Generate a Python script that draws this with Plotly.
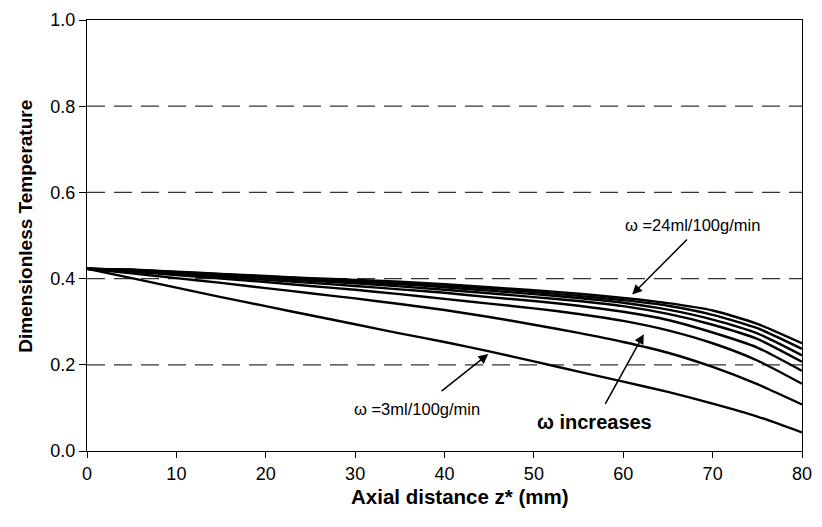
import plotly.graph_objects as go

z_mm = [0, 5, 10, 15, 20, 25, 30, 35, 40, 45, 50, 55, 60, 65, 70, 75, 80]

omega_labels = ["3", "6", "9", "12", "15", "18", "21", "24"]

temp_w3 = [0.423, 0.401, 0.379, 0.357, 0.336, 0.315, 0.294, 0.273, 0.253, 0.231, 0.208, 0.184, 0.161, 0.137, 0.110, 0.080, 0.043]
temp_w6 = [0.423, 0.412, 0.401, 0.390, 0.378, 0.366, 0.354, 0.341, 0.327, 0.311, 0.293, 0.274, 0.253, 0.228, 0.195, 0.155, 0.108]
temp_w9 = [0.423, 0.416, 0.408, 0.400, 0.392, 0.383, 0.374, 0.364, 0.353, 0.342, 0.331, 0.318, 0.302, 0.280, 0.250, 0.210, 0.156]
temp_w12 = [0.423, 0.418, 0.411, 0.404, 0.397, 0.390, 0.383, 0.375, 0.367, 0.357, 0.348, 0.337, 0.323, 0.304, 0.275, 0.240, 0.186]
temp_w15 = [0.423, 0.419, 0.413, 0.407, 0.401, 0.395, 0.389, 0.382, 0.374, 0.366, 0.357, 0.348, 0.336, 0.318, 0.293, 0.260, 0.207]
temp_w18 = [0.423, 0.420, 0.415, 0.409, 0.403, 0.398, 0.392, 0.387, 0.380, 0.372, 0.364, 0.355, 0.344, 0.328, 0.305, 0.273, 0.222]
temp_w21 = [0.423, 0.420, 0.415, 0.410, 0.405, 0.400, 0.395, 0.390, 0.384, 0.377, 0.369, 0.360, 0.350, 0.337, 0.316, 0.285, 0.237]
temp_w24 = [0.423, 0.421, 0.416, 0.411, 0.406, 0.401, 0.397, 0.393, 0.387, 0.380, 0.373, 0.365, 0.355, 0.343, 0.326, 0.295, 0.250]

series = [temp_w3, temp_w6, temp_w9, temp_w12, temp_w15, temp_w18, temp_w21, temp_w24]

x_ticks = [0, 10, 20, 30, 40, 50, 60, 70, 80]
y_ticks = [0.0, 0.2, 0.4, 0.6, 0.8, 1.0]
y_tick_text = ["0.0", "0.2", "0.4", "0.6", "0.8", "1.0"]

FONT = "Liberation Sans, Arial, sans-serif"

fig = go.Figure()
for lab, vals in zip(omega_labels, series):
    fig.add_trace(go.Scatter(x=z_mm, y=vals, mode="lines", name=lab,
                             line=dict(color="black", width=2.4, shape="spline", smoothing=0.6),
                             showlegend=False, hoverinfo="skip"))

# dashed horizontal gridlines
for yv in [0.2, 0.4, 0.6, 0.8]:
    fig.add_shape(type="line", xref="paper", yref="y", x0=0, x1=1, y0=yv, y1=yv,
                  line=dict(color="#333", width=1.2, dash="18px,9px"), layer="below")

annotations = [
    dict(x=67.7, y=0.524, xref="x", yref="y", text="ω =24ml/100g/min", showarrow=False,
         font=dict(size=16.5, family=FONT, color="black")),
    dict(x=61.0, y=0.363, ax=67.3, ay=0.494, xref="x", yref="y", axref="x", ayref="y",
         text="", showarrow=True, arrowhead=2, arrowsize=1.3, arrowwidth=1.5, arrowcolor="black"),
    dict(x=36.9, y=0.098, xref="x", yref="y", text="ω =3ml/100g/min", showarrow=False,
         font=dict(size=16.5, family=FONT, color="black")),
    dict(x=44.9, y=0.225, ax=39.5, ay=0.136, xref="x", yref="y", axref="x", ayref="y",
         text="", showarrow=True, arrowhead=2, arrowsize=1.3, arrowwidth=1.5, arrowcolor="black"),
    dict(x=56.8, y=0.067, xref="x", yref="y", text="<b>ω increases</b>", showarrow=False,
         font=dict(size=20, family=FONT, color="black")),
    dict(x=62.3, y=0.271, ax=57.9, ay=0.106, xref="x", yref="y", axref="x", ayref="y",
         text="", showarrow=True, arrowhead=2, arrowsize=1.3, arrowwidth=1.5, arrowcolor="black"),
    # axis titles
    dict(x=0.522, y=-0.106, xref="paper", yref="paper", xanchor="center", yanchor="middle",
         text="<b>Axial distance z* (mm)</b>", showarrow=False,
         font=dict(size=20.5, family=FONT, color="black")),
    dict(x=-0.087, y=0.522, xref="paper", yref="paper", xanchor="center", yanchor="middle",
         textangle=-90, text="<b>Dimensionless Temperature</b>", showarrow=False,
         font=dict(size=19, family=FONT, color="black")),
]

fig.update_layout(
    width=822, height=527,
    margin=dict(l=87, r=10, t=16, b=76),
    paper_bgcolor="white", plot_bgcolor="white",
    font=dict(family=FONT, size=18, color="black"),
    annotations=annotations,
    xaxis=dict(range=[0, 80], tickvals=x_ticks, ticks="outside", ticklen=6, tickcolor="black",
               showline=True, linecolor="black", linewidth=1.3, mirror=True, showgrid=False,
               zeroline=False, tickfont=dict(size=18)),
    yaxis=dict(range=[0, 1.0], tickvals=y_ticks, ticktext=y_tick_text, ticks="outside", ticklen=7,
               tickcolor="black", showline=True, linecolor="black", linewidth=1.3, mirror=True,
               showgrid=False, zeroline=False, tickfont=dict(size=18)),
)

fig.write_html("out.html")
